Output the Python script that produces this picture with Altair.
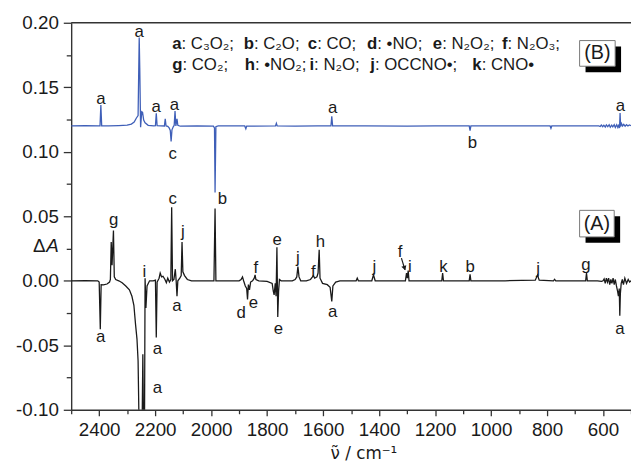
import altair as alt
import pandas as pd

# ---------------- spectrum (B): upper, blue trace ----------------
B_WN = [2500, 2450, 2401, 2397, 2394, 2391, 2366, 2330, 2300, 2285, 2275, 2267, 2261, 2257, 2255,
        2252, 2248, 2245, 2241, 2236, 2225, 2205, 2199, 2196, 2193, 2167, 2164, 2161, 2155, 2150,
        2146, 2143, 2140, 2135, 2132, 2129, 2126, 2122, 2119, 2110, 2050, 1992, 1988, 1986, 1983,
        1975, 1880, 1876, 1873, 1770, 1767, 1764, 1700, 1620, 1572, 1569, 1566, 1450, 1300, 1200,
        1078, 1075, 1072, 950, 789, 786, 783, 700, 640, 615, 610, 606, 601, 597, 592, 588, 583,
        578, 574, 569, 565, 560, 556, 551, 547, 543, 541, 539, 537, 534, 530, 526, 521, 516, 511,
        506, 500]
B_ABS = [0.1200, 0.1202, 0.1200, 0.1201, 0.1363, 0.1201, 0.1200, 0.1203, 0.1206, 0.1215, 0.1230,
         0.1262, 0.1280, 0.1886, 0.1650, 0.1190, 0.1310, 0.1305, 0.1245, 0.1225, 0.1205, 0.1200,
         0.1202, 0.1299, 0.1202, 0.1200, 0.1256, 0.1200, 0.1197, 0.1185, 0.1165, 0.1080, 0.1170,
         0.1195, 0.1205, 0.1315, 0.1200, 0.1255, 0.1205, 0.1198, 0.1200, 0.1199, 0.1185, 0.0684,
         0.1195, 0.1200, 0.1200, 0.1178, 0.1199, 0.1200, 0.1220, 0.1200, 0.1199, 0.1201, 0.1200,
         0.1275, 0.1200, 0.1200, 0.1199, 0.1200, 0.1200, 0.1164, 0.1200, 0.1200, 0.1200, 0.1182,
         0.1200, 0.1201, 0.1200, 0.1201, 0.1196, 0.1207, 0.1194, 0.1206, 0.1192, 0.1208, 0.1195,
         0.1210, 0.1190, 0.1207, 0.1194, 0.1210, 0.1189, 0.1209, 0.1188, 0.1212, 0.1184, 0.1300,
         0.1195, 0.1218, 0.1200, 0.1212, 0.1198, 0.1210, 0.1200, 0.1208, 0.1203]

# ---------------- spectrum (A): lower, black trace ----------------
A_WN = [2500, 2450, 2405, 2400, 2396, 2393, 2385, 2372, 2363, 2360, 2357, 2354, 2349, 2346, 2341,
        2330, 2318, 2305, 2292, 2283, 2276, 2270, 2265, 2261, 2257, 2252, 2247, 2244, 2241, 2238,
        2236, 2233, 2229, 2220, 2207, 2199, 2196, 2193, 2186, 2182, 2177, 2172, 2165, 2160, 2155,
        2149, 2144, 2141, 2138, 2133, 2128, 2125, 2122, 2119, 2112, 2107, 2104, 2101, 2095, 2085,
        2070, 1990, 1986, 1983, 1950, 1900, 1893, 1888, 1884, 1878, 1873, 1870, 1867, 1863, 1859,
        1852, 1846, 1843, 1840, 1830, 1800, 1782, 1778, 1775, 1771, 1768, 1765, 1762, 1759, 1756,
        1750, 1710, 1700, 1694, 1690, 1686, 1680, 1660, 1645, 1638, 1635, 1630, 1622, 1618, 1614,
        1611, 1602, 1585, 1575, 1569, 1565, 1555, 1540, 1482, 1478, 1474, 1426, 1420, 1414, 1360,
        1306, 1302, 1299, 1296, 1293, 1240, 1176, 1173, 1170, 1120, 1078, 1075, 1072, 950, 842,
        834, 828, 777, 773, 769, 700, 662, 659, 656, 620, 605, 600, 596, 592, 588, 584, 580, 576,
        572, 568, 564, 560, 556, 552, 548, 545, 542, 540, 538, 535, 531, 527, 522, 516, 510, 505,
        500]
A_ABS = [0.0000, 0.0002, 0.0000, -0.0010, -0.0375, -0.0030, -0.0032, -0.0025, -0.0010, 0.0010,
         0.0300, 0.0120, 0.0390, 0.0030, 0.0010, 0.0000, -0.0015, -0.0040, -0.0070, -0.0120,
         -0.0190, -0.0340, -0.0450, -0.0620, -0.1200, -0.1300, -0.1200, -0.0570, -0.1250, -0.1100,
         0.0020, -0.0210, -0.0040, 0.0000, 0.0000, 0.0005, -0.0440, -0.0010, 0.0020, 0.0060,
         0.0030, 0.0035, 0.0010, -0.0015, 0.0020, -0.0010, 0.0010, 0.0570, 0.0000, 0.0010,
         0.0090, 0.0000, -0.0120, 0.0000, 0.0020, 0.0040, 0.0300, 0.0070, 0.0040, 0.0010,
         0.0000, 0.0000, 0.0560, 0.0000, 0.0000, 0.0000, 0.0010, 0.0030, 0.0000, -0.0040,
         -0.0060, -0.0145, -0.0030, -0.0070, -0.0010, 0.0000, 0.0020, 0.0045, 0.0010, 0.0000,
         -0.0005, -0.0020, -0.0080, -0.0110, -0.0020, -0.0120, 0.0260, -0.0280, -0.0080, 0.0010,
         0.0000, 0.0000, 0.0010, 0.0030, 0.0110, 0.0030, 0.0000, 0.0000, 0.0010, 0.0030,
         0.0040, 0.0020, 0.0030, 0.0060, 0.0240, 0.0020, -0.0020, -0.0030, -0.0050, -0.0160,
         -0.0040, -0.0010, 0.0000, 0.0000, 0.0020, 0.0000, 0.0000, 0.0046, 0.0000, 0.0000,
         0.0000, 0.0060, 0.0020, 0.0080, 0.0000, 0.0000, 0.0000, 0.0060, 0.0000, 0.0000,
         0.0000, 0.0050, 0.0000, 0.0000, 0.0005, 0.0045, 0.0005, 0.0000, 0.0012, 0.0000,
         0.0000, 0.0000, 0.0060, 0.0000, 0.0000, -0.0005, 0.0000, 0.0015, -0.0020, 0.0020,
         -0.0010, 0.0020, -0.0030, 0.0010, -0.0020, 0.0020, -0.0030, 0.0010, -0.0040, -0.0080,
         -0.0120, -0.0060, -0.0270, -0.0100, -0.0020, 0.0010, -0.0030, 0.0020, -0.0020, 0.0010,
         -0.0010, 0.0000]

# ---------------- band assignment letters ----------------
LBL_TEXT = ["a", "a", "a", "a", "c", "b", "a", "b", "a",
            "a", "g", "i", "a", "a", "a", "c", "j", "d", "e", "f", "e", "e", "j", "f", "h",
            "a", "j", "f", "i", "k", "b", "j", "g", "a"]
LBL_WN = [2394, 2257, 2196, 2131, 2137, 1960, 1566, 1067, 538,
          2395, 2348, 2239, 2192, 2192, 2122, 2137, 2101, 1893, 1849, 1840, 1764, 1760, 1690,
          1635, 1610, 1566, 1417, 1325, 1290, 1170, 1075, 832, 661, 540]
LBL_ABS = [0.1409, 0.1931, 0.1350, 0.1363, 0.0980, 0.0636, 0.1337, 0.1069, 0.1357,
           -0.0438, 0.0467, 0.0071, -0.0528, -0.0834, -0.0197, 0.0637, 0.0377, -0.0247, -0.0171,
           0.0102, 0.0314, -0.0375, 0.0174, 0.0071, 0.0300, -0.0240, 0.0109, 0.0224, 0.0109,
           0.0109, 0.0105, 0.0090, 0.0122, -0.0375]

# ---------------- key of species ----------------
KEY_LETTER = ["a", "b", "c", "d", "e", "f", "g", "h", "i", "j", "k"]
KEY_TEXT = [": C\u2083O\u2082;", ": C\u2082O;", ": CO;", ": \u2022NO;", ": N\u2082O\u2082;",
            ": N\u2082O\u2083;", ": CO\u2082;", ": \u2022NO\u2082;", ": N\u2082O;",
            ": OCCNO\u2022;", ": CNO\u2022"]
KEY_WN = [2139.2, 1883.8, 1654.6, 1443.0, 1208.0, 961.2, 2139.2, 1880.3, 1648.9, 1431.3, 1067.0]
KEY_ABS = [0.1793, 0.1793, 0.1793, 0.1793, 0.1793, 0.1793, 0.1635, 0.1635, 0.1635, 0.1635, 0.1635]

# ---------------- panel tags ----------------
TAG_TEXT = ["(B)", "(A)"]
TAG_WN = [620.1, 621.9]
TAG_ABS = [0.1763, 0.0443]
TAG_X1 = [683.6, 683.6]
TAG_X2 = [556.6, 560.0]
TAG_Y1 = [0.1862, 0.0546]
TAG_Y2 = [0.1663, 0.0340]
SHADOW_X1 = [662.4, 662.4]
SHADOW_X2 = [535.5, 538.8]
SHADOW_Y1 = [0.1816, 0.0500]
SHADOW_Y2 = [0.1617, 0.0294]

# arrow pointing at the f band near 1300
ARROW_WN = [1320.2]
ARROW_WN2 = [1307.5]
ARROW_ABS = [0.0176]
ARROW_ABS2 = [0.0085]
ARROW_HEAD_WN = [1309.0]
ARROW_HEAD_ABS = [0.0098]

# y-axis title pieces
YT_TEXT = ["\u0394", "A"]
YT_WN = [2636.5, 2589.0]
YT_ABS = [0.0224, 0.0224]

X_TICKS = [2500, 2400, 2300, 2200, 2100, 2000, 1900, 1800, 1700, 1600, 1500, 1400, 1300, 1200,
           1100, 1000, 900, 800, 700, 600, 500]
Y_TICKS = [-0.1, -0.075, -0.05, -0.025, 0.0, 0.025, 0.05, 0.075, 0.1, 0.125, 0.15, 0.175, 0.2]

# ---------------- layout / style ----------------
W, H = 567, 392
FONT = "Liberation Sans"
BLUE = "#3f5fb8"
INK = "#1a1a1a"
AXC = "#333333"
KEY_FS = 17
BOLD_ADV = {"a": .556, "b": .611, "c": .556, "d": .611, "e": .556, "f": .333,
            "g": .611, "h": .611, "i": .278, "j": .278, "k": .556}

xs = alt.Scale(domain=[2500, 500], nice=False, zero=False)
ys = alt.Scale(domain=[-0.10, 0.20], nice=False, zero=False)

units_per_px = 2000.0 / W
df_b = pd.DataFrame({"wn": B_WN, "ab": B_ABS, "i": range(len(B_WN))})
df_a = pd.DataFrame({"wn": A_WN, "ab": A_ABS, "i": range(len(A_WN))})
df_lbl = pd.DataFrame({"wn": LBL_WN, "ab": LBL_ABS, "t": LBL_TEXT})
df_key = pd.DataFrame({"wn": KEY_WN, "ab": KEY_ABS, "t": KEY_LETTER})
df_key_d = pd.DataFrame({
    "wn": [w - BOLD_ADV[l] * KEY_FS * units_per_px for w, l in zip(KEY_WN, KEY_LETTER)],
    "ab": KEY_ABS, "t": KEY_TEXT})
df_tag = pd.DataFrame({"wn": TAG_WN, "ab": TAG_ABS, "t": TAG_TEXT,
                       "x1": TAG_X1, "x2": TAG_X2, "y1": TAG_Y1, "y2": TAG_Y2,
                       "sx1": SHADOW_X1, "sx2": SHADOW_X2, "sy1": SHADOW_Y1, "sy2": SHADOW_Y2})
df_arrow = pd.DataFrame({"wn": ARROW_WN, "wn2": ARROW_WN2, "ab": ARROW_ABS, "ab2": ARROW_ABS2})
df_head = pd.DataFrame({"wn": ARROW_HEAD_WN, "ab": ARROW_HEAD_ABS})
df_top = pd.DataFrame({"ab": [0.20]})
df_yt1 = pd.DataFrame({"wn": YT_WN[:1], "ab": YT_ABS[:1], "t": YT_TEXT[:1]})
df_yt2 = pd.DataFrame({"wn": YT_WN[1:], "ab": YT_ABS[1:], "t": YT_TEXT[1:]})

X_MAJOR = "datum.value % 200 == 0"
Y_MAJOR = "abs(datum.value*20 - round(datum.value*20)) < 0.01"

x_axis = alt.Axis(
    values=X_TICKS,
    labelExpr=f"{X_MAJOR} ? format(datum.value, 'd') : ''",
    tickSize=6,
    tickDash={"condition": {"test": X_MAJOR, "value": [20, 1]}, "value": [4, 20]},
    grid=False, domainColor=AXC, domainWidth=1.4, tickColor=AXC, tickWidth=1.3,
    labelFont=FONT, labelFontSize=19, labelColor=INK, labelPadding=5, labelFlush=False,
    labelOverlap=False,
    title="\u03bd\u0303 / cm\u207b\u00b9", titleFont="DejaVu Sans", titleFontSize=17,
    titleFontWeight="normal", titleColor=INK, titleX=296, titleY=49,
    titleBaseline="alphabetic", titleAlign="center",
)
y_axis = alt.Axis(
    values=Y_TICKS,
    labelExpr=f"{Y_MAJOR} ? ((datum.value < -0.0001 ? '-' : '') + "
              "format(abs(datum.value), '.2f')) : ''",
    tickSize=8,
    tickDash={"condition": {"test": Y_MAJOR, "value": [20, 1]}, "value": [5, 20]},
    grid=False, domainColor=AXC, domainWidth=1.4, tickColor=AXC, tickWidth=1.3,
    labelFont=FONT, labelFontSize=19, labelColor=INK, labelPadding=5, labelFlush=False,
    labelOverlap=False, title=None,
)


# every layer carries the same (identical) axis spec so that they merge into one
def X(f="wn"):
    return alt.X(f"{f}:Q", scale=xs, axis=x_axis)


def Y(f="ab"):
    return alt.Y(f"{f}:Q", scale=ys, axis=y_axis)


line_a = alt.Chart(df_a).mark_line(color=INK, strokeWidth=1.3, clip=True).encode(
    x=X(), y=Y(), order="i:Q")
line_b = alt.Chart(df_b).mark_line(color=BLUE, strokeWidth=1.3, clip=True).encode(
    x=X(), y=Y(), order="i:Q")
top = alt.Chart(df_top).mark_rule(color=AXC, strokeWidth=1.4).encode(y=Y())

labels = alt.Chart(df_lbl).mark_text(font=FONT, fontSize=17, color=INK, align="center",
                                     baseline="middle").encode(x=X(), y=Y(), text="t:N")
key_l = alt.Chart(df_key).mark_text(font=FONT, fontSize=KEY_FS, fontWeight="bold", color=INK,
                                    align="left", baseline="alphabetic").encode(
    x=X(), y=Y(), text="t:N")
key_d = alt.Chart(df_key_d).mark_text(font=FONT, fontSize=KEY_FS, color=INK, align="left",
                                      baseline="alphabetic").encode(x=X(), y=Y(), text="t:N")

shadow = alt.Chart(df_tag).mark_rect(color="black").encode(
    x=X("sx1"), x2="sx2:Q", y=Y("sy1"), y2="sy2:Q")
box = alt.Chart(df_tag).mark_rect(fill="white", stroke="#777777", strokeWidth=1).encode(
    x=X("x1"), x2="x2:Q", y=Y("y1"), y2="y2:Q")
tag = alt.Chart(df_tag).mark_text(font=FONT, fontSize=20, color=INK, align="center",
                                  baseline="middle").encode(x=X(), y=Y(), text="t:N")

arrow = alt.Chart(df_arrow).mark_rule(color=INK, strokeWidth=1.2).encode(
    x=X(), x2="wn2:Q", y=Y(), y2="ab2:Q")
head = alt.Chart(df_head).mark_point(shape="triangle-down", filled=True, color=INK, size=28,
                                     angle=341, opacity=1).encode(x=X(), y=Y())

yt1 = alt.Chart(df_yt1).mark_text(font=FONT, fontSize=19, color=INK, align="left",
                                  baseline="alphabetic").encode(x=X(), y=Y(), text="t:N")
yt2 = alt.Chart(df_yt2).mark_text(font=FONT, fontSize=19, color=INK, align="left",
                                  fontStyle="italic", baseline="alphabetic").encode(
    x=X(), y=Y(), text="t:N")

chart = alt.layer(
    line_a, line_b, top, labels, key_l, key_d, shadow, box, tag, arrow, head, yt1, yt2
).properties(
    width=W, height=H,
    autosize=alt.AutoSizeParams(type="none"),
    padding={"left": 64, "top": 12, "right": 0, "bottom": 56},
).configure_view(stroke=None)

chart.save("out.html", embed_options={"renderer": "svg", "actions": False})
